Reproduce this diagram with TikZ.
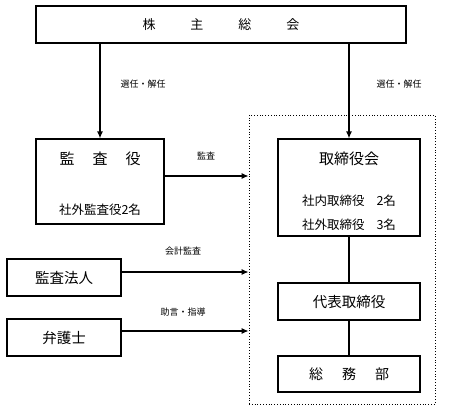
\documentclass[tikz,border=0pt]{standalone}
\usepackage{fontspec}
\setmainfont{Noto Sans CJK JP}
\usetikzlibrary{arrows.meta}
\begin{document}
\begin{tikzpicture}[x=1pt,y=-1pt]

		\tikzstyle{mybox}=[rectangle,
		draw=black,
		line width=1.2pt,
		inner sep=0pt,
		font=\fontsize{13}{15}\selectfont
		]
		\tikzstyle{mytext}=[inner sep=0pt,
		font=\fontsize{12.5}{14}\selectfont
		]
		\tikzstyle{mylabel}=[inner sep=0pt,
		font=\fontsize{9}{10}\selectfont
		]
		\tikzstyle{myarrow}=[line width=1.2pt,
		-{Latex[length=7pt,width=6pt]}
		]

		\useasboundingbox (0,0) rectangle (455,410);

		\coordinate (psoukai) at (221, 24.5);
		\coordinate (pkansa) at (100, 181.5);
		\coordinate (ptori) at (349, 187.5);
		\coordinate (pdaihyo) at (349, 301.5);
		\coordinate (psoumu) at (349, 374);
		\coordinate (phojin) at (64, 277.5);
		\coordinate (pbengo) at (64, 337.5);
		\coordinate (pframe) at (342, 259.5);

		\node[draw, dotted, line width=0.8pt, minimum width=186pt, minimum height=289pt] (frame) at (pframe) {};

		\node[mybox, minimum width=370pt, minimum height=37pt] (soukai) at (psoukai) {株\hspace{35pt}主\hspace{35pt}総\hspace{35pt}会};
		\node[mybox, minimum width=128pt, minimum height=85pt] (kansa) at (pkansa) {};
		\node[mybox, minimum width=142pt, minimum height=97pt] (tori) at (ptori) {};
		\node[mybox, minimum width=142pt, minimum height=37pt, font=\fontsize{14.5}{16}\selectfont] (daihyo) at (pdaihyo) {代表取締役};
		\node[mybox, minimum width=142pt, minimum height=36pt, font=\fontsize{14}{16}\selectfont] (soumu) at (psoumu) {総\hspace{19pt}務\hspace{19pt}部};
		\node[mybox, minimum width=114pt, minimum height=37pt, font=\fontsize{14.5}{16}\selectfont] (hojin) at (phojin) {監査法人};
		\node[mybox, minimum width=114pt, minimum height=37pt, font=\fontsize{14.5}{16}\selectfont] (bengo) at (pbengo) {弁護士};

		\node[mytext, font=\fontsize{15}{17}\selectfont] (kansa1) at (100, 159) {監\hspace{18pt}査\hspace{18pt}役};
		\node[mytext] (kansa2) at (100, 210) {社外監査役2名};
		\node[mytext, font=\fontsize{15}{17}\selectfont] (tori1) at (349, 159) {取締役会};
		\node[mytext] (tori2) at (349, 201) {社内取締役\hspace{12pt}2名};
		\node[mytext] (tori3) at (349, 225) {社外取締役\hspace{12pt}3名};

		\draw[myarrow] (soukai.south -| kansa.north) -- (kansa.north);
		\draw[myarrow] (soukai.south -| tori.north) -- (tori.north);
		\draw[myarrow] (kansa.east |- 0,176) -- (frame.west |- 0,176);
		\draw[myarrow] (hojin.east |- 0,272) -- (frame.west |- 0,272);
		\draw[myarrow] (bengo.east |- 0,331) -- (frame.west |- 0,331);
		\draw[line width=1.2pt] (tori) -- (daihyo);
		\draw[line width=1.2pt] (daihyo) -- (soumu);

		\node[mylabel] (l1) at (143, 84) {選任・解任};
		\node[mylabel] (l2) at (399, 84) {選任・解任};
		\node[mylabel] (l3) at (206, 156) {監査};
		\node[mylabel] (l4) at (183, 251) {会計監査};
		\node[mylabel] (l5) at (183, 312) {助言・指導};

\end{tikzpicture}
\end{document}
